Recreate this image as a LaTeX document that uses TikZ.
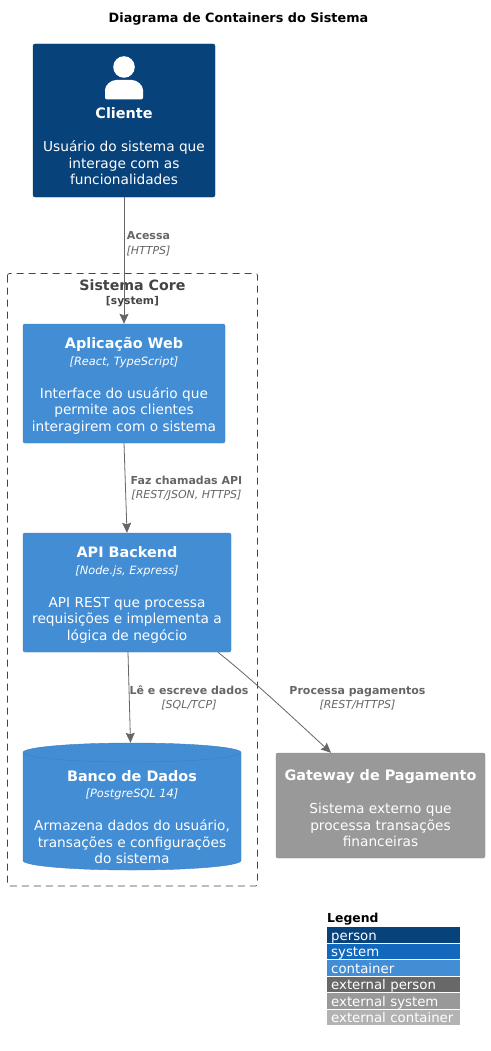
\documentclass[tikz,border=0pt]{standalone}
\usepackage{fontspec}
\setmainfont{DejaVu Sans}
\usetikzlibrary{arrows.meta}

\definecolor{personblue}{HTML}{08427B}
\definecolor{systemblue}{HTML}{1168BD}
\definecolor{containerblue}{HTML}{438DD5}
\definecolor{extperson}{HTML}{686868}
\definecolor{extsystem}{HTML}{999999}
\definecolor{extcontainer}{HTML}{B3B3B3}
\definecolor{relgray}{HTML}{666666}
\definecolor{coregray}{HTML}{444444}

\newcommand{\boxname}[1]{{\fontsize{14.4}{16}\selectfont\bfseries\rule{0pt}{16pt}#1}}
\newcommand{\boxtech}[1]{{\fontsize{11.4}{16}\selectfont\itshape [#1]}}

\tikzset{
	bodytext/.style={text=white,align=center,font=\fontsize{13.7}{16.4}\selectfont},
	webbox/.style={bodytext,fill=containerblue,draw=containerblue!90!black,rounded corners=2pt,inner sep=0pt},
	reltext/.style={text=relgray,align=center,font=\fontsize{11}{14.5}\selectfont},
	legendrow/.style={text=white,anchor=west,inner ysep=0pt,inner xsep=4pt,minimum width=133pt,minimum height=15.8pt,text width=125pt,
		text height=12pt,text depth=2pt,align=left,font=\fontsize{13.3}{14}\selectfont},
	rel/.style={-{Stealth[length=10pt,width=9pt,inset=1.5pt]},relgray,line width=0.8pt}
}

\begin{document}
\begin{tikzpicture}[x=1pt,y=-1pt]
	\useasboundingbox (0,0) rectangle (490,1051);
	\fill[white] (0,0) rectangle (490,1051);

	\node[font=\fontsize{12.8}{14}\selectfont\bfseries] (title) at (238.5,19) {Diagrama de Containers do Sistema};

	% boundary
	\draw[coregray,dash pattern=on 7pt off 5pt,rounded corners=2pt,line width=0.7pt] (7.5,273.5) rectangle (257.5,886);
	\node[text=coregray,align=center,font=\fontsize{14.2}{16}\selectfont\bfseries] (core) at (132.5,285) {Sistema Core};
	\node[text=coregray,font=\fontsize{10.7}{14}\selectfont\bfseries] (corekind) at (132.5,301.5) {[system]};

	% boxes
	\node[webbox,fill=personblue,draw=personblue!90!black,minimum width=182pt,minimum height=153pt] (cliente) at (124,120.5) {};
	\fill[white] (124,67) circle (10.8pt);
	\fill[white,rounded corners=2pt] (105,99.5) -- (105,92) .. controls (105,85) and (111,80) .. (118,80) -- (130,80)
		.. controls (137,80) and (143,85) .. (143,92) -- (143,99.5) -- cycle;
	\node[bodytext] (clientetext) at (124,143.5) {\boxname{Cliente}\\[17pt]Usuário do sistema que\\interage com as\\funcionalidades};

	\node[webbox,minimum width=202pt,minimum height=119pt] (web) at (124,383.5) {\boxname{Aplicação Web}\\\boxtech{React, TypeScript}\\[17pt]Interface do usuário que\\permite aos clientes\\interagirem com o sistema};
	\node[webbox,minimum width=208pt,minimum height=119pt] (api) at (127,592.5) {\boxname{API Backend}\\\boxtech{Node.js, Express}\\[17pt]API REST que processa\\requisições e implementa a\\lógica de negócio};
	\node[webbox,fill=extsystem,draw=extsystem!90!black,minimum width=209pt,minimum height=105pt] (gateway) at (380.5,805.5) {\boxname{Gateway de Pagamento}\\[17pt]Sistema externo que\\processa transações\\financeiras};

	% database
	\node[minimum width=218pt,minimum height=127pt,inner sep=0pt] (db) at (132,806.5) {};
	\draw[fill=containerblue,draw=containerblue!90!black] (23,752.5) arc[start angle=180,end angle=0,x radius=109pt,y radius=9.5pt]
		-- (241,860.5) arc[start angle=0,end angle=-180,x radius=109pt,y radius=9.5pt] -- cycle;
	\draw[containerblue!90!black] (23,752.5) arc[start angle=180,end angle=360,x radius=109pt,y radius=9.5pt];
	\node[bodytext] (dbtext) at (132,814.5) {\boxname{Banco de Dados}\\\boxtech{PostgreSQL 14}\\[17pt]Armazena dados do usuário,\\transações e configurações\\do sistema};

	% relations
	\draw[rel] (cliente.south) -- (web.north);
	\draw[rel] (web.south) -- (api.north);
	\draw[rel] ([xshift=1pt]api.south) -- ([xshift=-1.5pt]db.north);
	\draw[rel] ([xshift=91pt]api.south) .. controls (255,682) and (290,715) .. ([xshift=-49.5pt]gateway.north);

	\node[reltext] (acessa) at (148.5,243.5) {\textbf{Acessa}\\\textit{[HTTPS]}};
	\node[reltext] (chamadas) at (186.5,488.5) {\textbf{Faz chamadas API}\\\textit{[REST/JSON, HTTPS]}};
	\node[reltext] (dados) at (189,698) {\textbf{Lê e escreve dados}\\\textit{[SQL/TCP]}};
	\node[reltext] (pagamentos) at (357.5,698) {\textbf{Processa pagamentos}\\\textit{[REST/HTTPS]}};

	% legend
	\node[font=\fontsize{12.4}{14}\selectfont\bfseries,anchor=west,inner sep=0pt] (legend) at (327,919.5) {Legend};
	\node[legendrow,fill=personblue] (lperson) at (327,935) {person};
	\node[legendrow,fill=systemblue] (lsystem) at (327,951.5) {system};
	\node[legendrow,fill=containerblue] (lcontainer) at (327,968) {container};
	\node[legendrow,fill=extperson] (lextperson) at (327,984.5) {external person};
	\node[legendrow,fill=extsystem] (lextsystem) at (327,1001) {external system};
	\node[legendrow,fill=extcontainer] (lextcontainer) at (327,1017.5) {external container};
\end{tikzpicture}
\end{document}
